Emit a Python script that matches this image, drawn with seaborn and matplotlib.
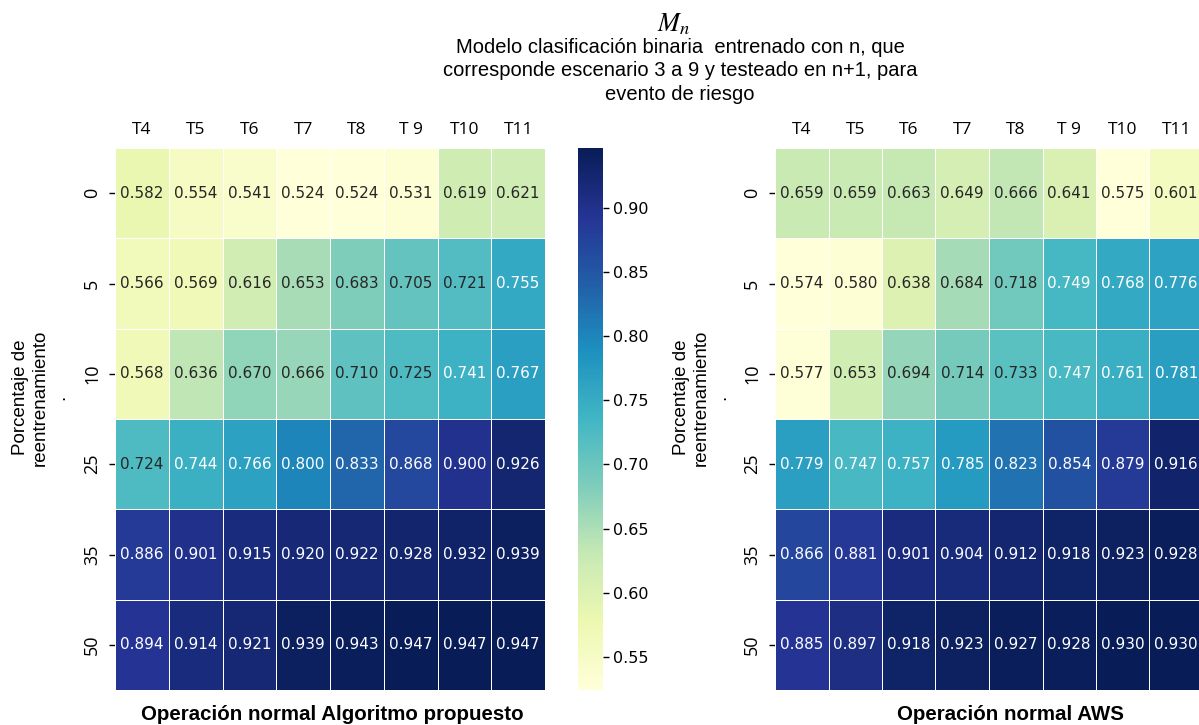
import numpy as np
import pandas as pd
import matplotlib
matplotlib.use("Agg")
import matplotlib.pyplot as plt
import seaborn as sns

# Test windows (columns) and retraining percentage (rows)
columns = ["T4", "T5", "T6", "T7", "T8", "T 9", "T10", "T11"]
retrain_pct = ["0", "5", "10", "25", "35", "50"]

# Scores for the proposed algorithm under normal operation
propuesto = [
    [0.582, 0.554, 0.541, 0.524, 0.524, 0.531, 0.619, 0.621],
    [0.566, 0.569, 0.616, 0.653, 0.683, 0.705, 0.721, 0.755],
    [0.568, 0.636, 0.670, 0.666, 0.710, 0.725, 0.741, 0.767],
    [0.724, 0.744, 0.766, 0.800, 0.833, 0.868, 0.900, 0.926],
    [0.886, 0.901, 0.915, 0.920, 0.922, 0.928, 0.932, 0.939],
    [0.894, 0.914, 0.921, 0.939, 0.943, 0.947, 0.947, 0.947],
]

# Scores for AWS under normal operation
aws = [
    [0.659, 0.659, 0.663, 0.649, 0.666, 0.641, 0.575, 0.601],
    [0.574, 0.580, 0.638, 0.684, 0.718, 0.749, 0.768, 0.776],
    [0.577, 0.653, 0.694, 0.714, 0.733, 0.747, 0.761, 0.781],
    [0.779, 0.747, 0.757, 0.785, 0.823, 0.854, 0.879, 0.916],
    [0.866, 0.881, 0.901, 0.904, 0.912, 0.918, 0.923, 0.928],
    [0.885, 0.897, 0.918, 0.923, 0.927, 0.928, 0.930, 0.930],
]

df_prop = pd.DataFrame(propuesto, index=retrain_pct, columns=columns)
df_aws = pd.DataFrame(aws, index=retrain_pct, columns=columns)

sns.set_style("white")
plt.rcParams["mathtext.fontset"] = "stix"
plt.rcParams["text.color"] = "black"
plt.rcParams["axes.labelcolor"] = "black"

W, H = 1199, 725
fig = plt.figure(figsize=(W / 100, H / 100), dpi=100)


def frac(x0, y0, x1, y1):
    return [x0 / W, 1 - y1 / H, (x1 - x0) / W, (y1 - y0) / H]


ax1 = fig.add_axes(frac(115, 148, 545, 690))
cax = fig.add_axes(frac(578, 148, 603, 690))
ax2 = fig.add_axes(frac(775, 148, 1203, 690))

common = dict(cmap="YlGnBu", annot=True, fmt=".3f", linewidths=0.7,
              linecolor="white", annot_kws={"size": 11})

sns.heatmap(df_prop, ax=ax1, cbar_ax=cax, **common)
sns.heatmap(df_aws, ax=ax2, cbar=False, **common)

ylab = "Porcentaje de\nreentrenamiento\n."
for ax, lx in ((ax1, -0.108), (ax2, -0.106)):
    ax.xaxis.tick_top()
    ax.set_xticklabels(columns, rotation=0, fontsize=12.5, family="Open Sans",
                       color="black")
    ax.tick_params(axis="x", length=0, pad=7)
    ax.set_yticklabels(retrain_pct, rotation=90, va="center",
                       fontsize=13, family="Open Sans", color="black")
    ax.tick_params(axis="y", length=4, width=1, pad=6, left=True, color="black")
    ax.set_ylabel(ylab, family="Liberation Sans", fontsize=13.5,
                  linespacing=1.2)
    ax.yaxis.set_label_coords(lx, 0.54)
    ax.set_xlabel("")

cax.tick_params(labelsize=11.5, length=4, width=1, colors="black")

fig.text(332 / W, 1 - 715 / H, "Operación normal Algoritmo propuesto",
         ha="center", va="center", fontsize=14.8, fontweight="bold",
         family="Liberation Sans")
fig.text(1010 / W, 1 - 715 / H, "Operación normal AWS",
         ha="center", va="center", fontsize=14.8, fontweight="bold",
         family="Liberation Sans")

fig.text(674 / W, 1 - 24 / H, r"$M_n$", ha="center", va="center", fontsize=19)
fig.text(680 / W, 1 - 71 / H,
         "Modelo clasificación binaria  entrenado con n, que\n"
         "corresponde escenario 3 a 9 y testeado en n+1, para\n"
         "evento de riesgo",
         ha="center", va="center", fontsize=14.5, family="Liberation Sans",
         linespacing=1.27)

fig.savefig("out.png", dpi=100)
